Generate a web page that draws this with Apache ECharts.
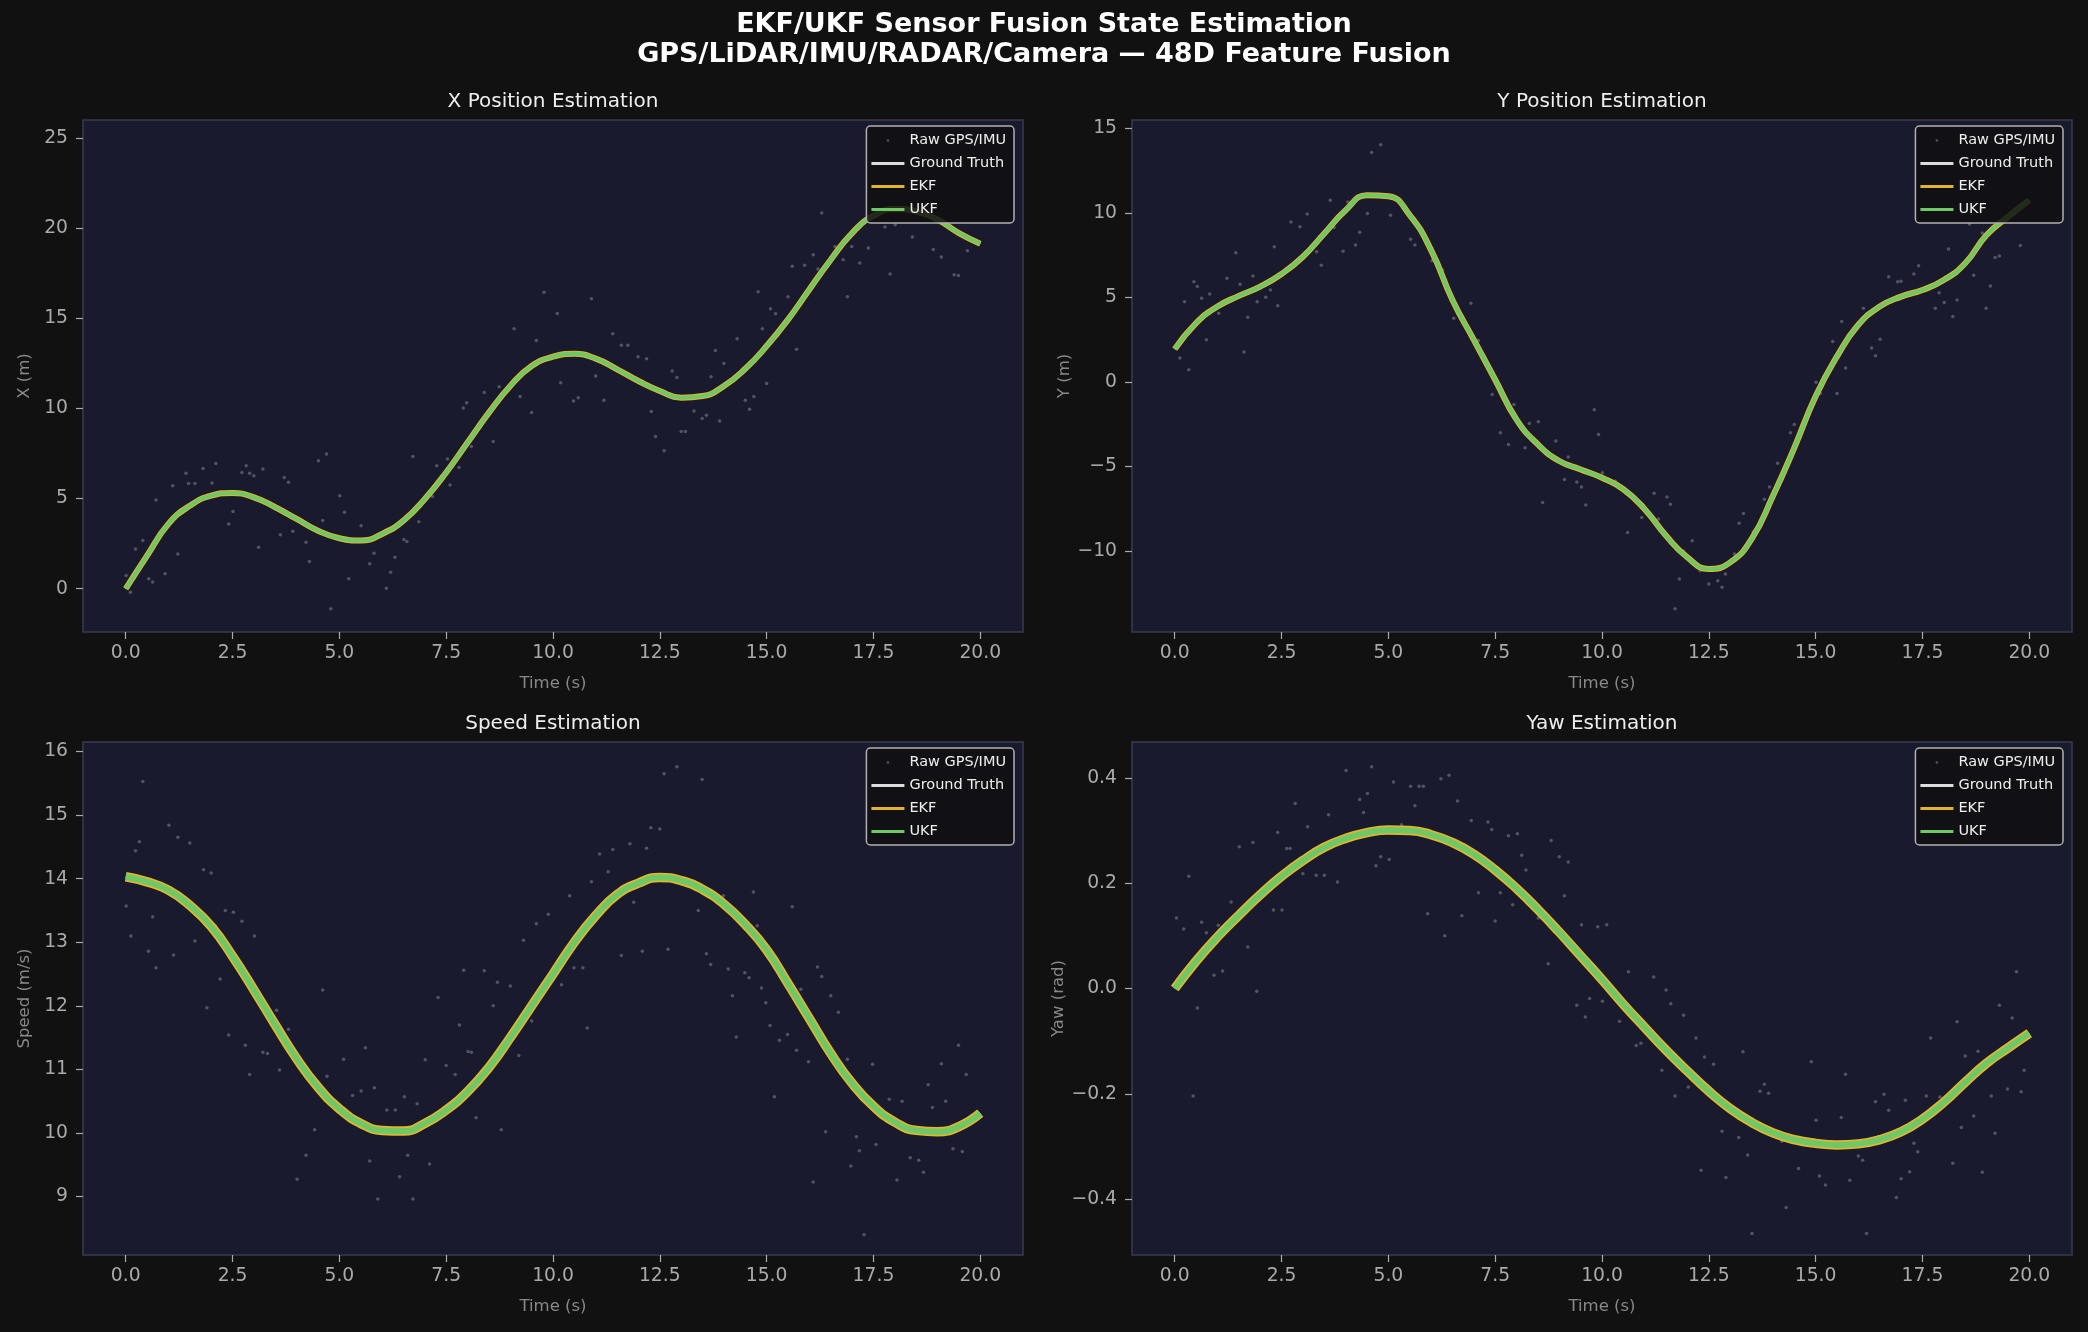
<!DOCTYPE html>
<html>
<head>
<meta charset="utf-8">
<title>EKF/UKF Sensor Fusion State Estimation</title>
<script src="https://cdn.jsdelivr.net/npm/echarts@6.0.0/dist/echarts.min.js"></script>
<style>
  html, body { margin: 0; padding: 0; background: #111111; }
  #chart { width: 2088px; height: 1332px; }
</style>
</head>
<body>
<div id="chart"></div>
<script>
  // time base of the estimated tracks (s)
  var trackT = [0, 0.5, 1, 1.5, 2, 2.5, 3, 3.5, 4, 4.5, 5, 5.5, 6, 6.5, 7, 7.5, 8, 8.5, 9, 9.5, 10,
    10.5, 11, 11.5, 12, 12.5, 13, 13.5, 14, 14.5, 15, 15.5, 16, 16.5, 17, 17.5, 18, 18.5, 19, 19.5, 20];

  // truth / EKF / UKF run on top of each other at this scale, so one track per state
  var xTrack = [0, 1.84, 3.6, 4.6, 5.16, 5.31, 5.07, 4.52, 3.87, 3.22, 2.8, 2.67, 3.04, 3.78, 4.98, 6.45,
    8.11, 9.77, 11.25, 12.35, 12.87, 13.03, 12.76, 12.17, 11.52, 10.97, 10.6, 10.69, 11.25, 12.2, 13.46,
    14.93, 16.6, 18.25, 19.73, 20.69, 21.06, 20.93, 20.47, 19.73, 19.14];
  var yTrack = [1.94, 3.48, 4.46, 5.09, 5.64, 6.39, 7.41, 8.78, 10.16, 11.05, 10.99, 9.87, 7.8, 4.85, 2.49,
    0.13, -2.23, -3.7, -4.68, -5.18, -5.67, -6.35, -7.53, -9.11, -10.39, -11.07, -10.68, -9.3, -6.75, -3.9,
    -0.85, 1.51, 3.38, 4.46, 5.05, 5.44, 6.03, 7.02, 8.69, 9.77, 10.75];
  var speedTrack = [14.03, 13.95, 13.82, 13.58, 13.25, 12.78, 12.25, 11.7, 11.17, 10.72, 10.38, 10.15, 10.04,
    10.03, 10.15, 10.36, 10.65, 11.03, 11.5, 12.0, 12.5, 13.0, 13.42, 13.75, 13.93, 14.02, 13.97, 13.83,
    13.6, 13.28, 12.88, 12.35, 11.8, 11.25, 10.78, 10.42, 10.17, 10.04, 10.02, 10.1, 10.31];
  var yawTrack = [0, 0.052, 0.098, 0.139, 0.178, 0.213, 0.243, 0.268, 0.285, 0.296, 0.301, 0.3, 0.292, 0.277,
    0.255, 0.225, 0.19, 0.15, 0.107, 0.062, 0.017, -0.03, -0.074, -0.117, -0.157, -0.195, -0.228, -0.254,
    -0.274, -0.287, -0.294, -0.297, -0.295, -0.287, -0.272, -0.248, -0.216, -0.178, -0.142, -0.113, -0.085];

  // raw GPS/IMU samples [t, value] that stand off the tracks
  var rawX = [[0.11,-0.19],[0.01,0.73],[0.23,2.21],[0.4,2.67],[0.54,0.55],[0.63,0.37],[0.92,0.83],[0.71,4.92],
    [1.1,5.71],[1.22,1.93],[1.41,6.41],[1.47,5.84],[1.62,5.84],[1.81,6.67],[2.02,5.86],[2.11,6.95],[2.41,3.59],
    [2.51,4.28],[2.72,6.45],[2.82,6.82],[2.9,6.4],[3.0,6.27],[3.21,6.64],[3.11,2.3],[3.62,3.0],[3.71,6.17],
    [3.81,5.9],[3.91,3.19],[4.22,2.58],[4.3,1.51],[4.51,7.1],[4.7,7.47],[4.61,3.78],[4.8,-1.11],[5.01,5.16],
    [5.12,4.24],[5.22,0.55],[5.51,3.5],[5.71,1.38],[5.81,1.97],[6.1,0.03],[6.2,0.92],[6.3,1.75],[6.51,2.73],
    [6.58,2.62],[6.72,7.34],[6.86,3.72],[7.18,5.11],[7.28,6.82],[7.59,5.75],[7.8,6.73],[7.53,7.19],[7.9,10.03],
    [7.98,10.32],[8.09,7.89],[8.39,10.88],[8.6,8.17],[8.74,11.21],[9.09,14.42],[9.23,10.66],[9.5,9.77],
    [9.61,13.77],[9.79,16.45],[10.1,15.27],[10.18,11.43],[10.48,10.42],[10.59,10.6],[10.9,16.08],[11.0,11.8],
    [11.19,10.45],[11.4,14.14],[11.6,13.51],[11.75,13.5],[11.99,12.87],[12.19,12.76],[12.3,9.83],[12.4,8.44],
    [12.6,7.65],[12.79,12.08],[12.9,11.71],[13.0,8.72],[13.1,8.72],[13.3,9.86],[13.49,9.44],[13.59,9.62],
    [13.7,11.76],[13.8,13.22],[13.9,9.31],[14.0,12.5],[14.31,13.87],[14.5,10.45],[14.6,9.96],[14.7,10.66],
    [14.8,16.47],[15.0,11.39],[14.9,14.42],[15.09,15.53],[15.21,15.25],[15.5,16.19],[15.7,13.28],[15.6,17.89],
    [15.89,17.94],[16.09,18.53],[16.2,17.74],[16.29,20.84],[16.6,18.99],[16.79,18.25],[16.89,16.19],
    [16.99,18.99],[17.18,18.07],[17.38,18.9],[17.77,20.06],[17.89,17.46],[18.01,20.19],[18.41,19.51],
    [18.9,18.81],[19.09,18.4],[19.39,17.42],[19.49,17.37],[19.7,18.75]];
  var rawY = [[0.12,1.41],[0.33,0.72],[0.23,4.75],[0.45,5.93],[0.53,5.64],[0.63,4.95],[0.74,2.49],[0.82,5.21],
    [1.03,4.07],[1.22,6.13],[1.43,7.64],[1.53,5.78],[1.62,1.77],[1.71,3.83],[1.83,6.27],[1.93,4.75],[2.13,5.01],
    [2.24,5.44],[2.33,8.0],[2.41,4.5],[2.72,9.47],[2.93,9.18],[3.1,9.93],[3.32,7.7],[3.43,6.9],[3.64,10.75],
    [3.73,9.14],[3.94,7.74],[4.05,10.65],[4.23,8.1],[4.33,8.86],[4.51,9.96],[4.61,13.58],[4.82,14.03],
    [5.05,9.87],[5.23,10.75],[5.52,8.45],[5.62,8.1],[6.02,7.17],[6.27,6.62],[6.32,5.84],[6.53,3.77],[6.72,3.87],
    [6.93,4.66],[7.11,2.45],[7.43,-0.75],[7.62,-3.01],[7.81,-3.7],[7.94,-1.34],[8.2,-3.9],[8.3,-2.46],
    [8.51,-2.36],[8.61,-7.14],[8.82,-4.49],[8.92,-3.5],[9.12,-5.77],[9.21,-4.45],[9.41,-5.92],[9.52,-6.22],
    [9.62,-7.28],[9.82,-1.64],[9.92,-3.11],[10.01,-5.37],[10.31,-5.86],[10.6,-8.91],[10.93,-8.03],[11.22,-6.59],
    [11.32,-8.12],[11.52,-6.81],[11.6,-7.24],[11.71,-13.43],[11.81,-11.66],[11.91,-10.01],[12.11,-9.4],
    [12.3,-11.17],[12.5,-11.96],[12.71,-11.76],[12.81,-12.15],[12.89,-11.37],[13.1,-10.19],[13.21,-8.36],
    [13.31,-7.79],[13.54,-8.87],[13.8,-6.94],[13.92,-6.22],[14.11,-4.82],[14.41,-3.01],[14.5,-2.52],[14.6,-3.31],
    [14.72,-2.38],[15.01,-0.02],[15.11,-0.69],[15.4,2.39],[15.5,-0.69],[15.61,3.57],[15.7,0.82],[15.91,3.24],
    [16.12,4.36],[16.31,2.0],[16.4,1.55],[16.51,2.53],[16.71,6.23],[16.92,5.93],[17.0,5.95],[17.21,5.15],
    [17.3,6.39],[17.41,6.88],[17.8,4.36],[17.89,5.28],[18.01,4.7],[18.11,7.86],[18.21,3.87],[18.31,4.85],
    [18.6,9.34],[18.7,6.31],[18.9,8.82],[18.99,4.36],[19.09,5.68],[19.2,7.37],[19.3,7.45],[19.79,8.08]];
  var rawSpeed = [[0.4,15.53],[0.32,14.58],[0.23,14.44],[0.01,13.57],[0.12,13.1],[0.53,12.86],[0.63,13.4],
    [0.71,12.6],[1.01,14.84],[1.12,12.8],[1.22,14.65],[1.5,14.56],[1.62,13.02],[1.82,14.14],[1.9,11.97],
    [2.0,14.09],[2.1,13.26],[2.21,12.42],[2.33,13.5],[2.41,11.54],[2.52,13.47],[2.72,13.33],[2.8,11.38],
    [2.9,10.92],[3.01,13.1],[3.21,11.27],[3.32,11.25],[3.53,11.93],[3.6,10.99],[3.81,11.63],[4.01,9.27],
    [4.22,9.65],[4.42,10.05],[4.61,12.25],[4.71,10.89],[5.1,11.16],[5.31,10.59],[5.51,10.66],[5.61,11.34],
    [5.71,9.56],[5.82,10.71],[5.9,8.96],[6.11,10.36],[6.31,10.36],[6.41,9.31],[6.52,10.57],[6.6,9.65],
    [6.72,8.96],[6.82,10.46],[7.01,11.15],[7.11,9.51],[7.31,12.13],[7.5,11.06],[7.71,10.92],[7.81,11.7],
    [7.91,12.56],[8.01,11.28],[8.09,11.27],[8.2,10.24],[8.39,12.55],[8.6,12.0],[8.7,12.37],[8.79,10.05],
    [9.0,12.31],[9.2,11.22],[9.31,13.03],[9.5,11.76],[9.61,13.29],[9.89,13.44],[10.2,12.33],[10.39,13.73],
    [10.49,12.6],[10.7,12.6],[10.8,11.65],[10.9,13.95],[11.09,14.39],[11.29,14.11],[11.4,14.46],[11.6,12.79],
    [11.8,14.55],[11.89,13.63],[12.09,12.86],[12.19,14.48],[12.29,14.8],[12.5,14.78],[12.6,15.65],[12.69,12.89],
    [12.9,15.76],[13.4,13.5],[13.49,15.56],[13.59,12.82],[13.69,12.65],[13.99,13.73],[14.1,12.58],[14.2,12.16],
    [14.29,11.51],[14.49,12.52],[14.59,12.44],[14.69,13.79],[14.78,13.26],[14.88,12.28],[14.98,12.05],
    [15.08,11.69],[15.18,10.57],[15.3,11.46],[15.49,11.55],[15.6,13.56],[15.7,11.3],[15.8,12.26],[15.98,11.12],
    [16.09,9.23],[16.19,12.61],[16.29,12.46],[16.38,10.02],[16.5,12.16],[16.68,11.9],[16.89,11.16],[16.97,9.48],
    [17.1,9.94],[17.17,9.72],[17.28,8.4],[17.48,11.08],[17.56,9.82],[17.87,10.53],[18.05,9.26],[18.17,10.5],
    [18.36,9.61],[18.56,9.57],[18.67,9.38],[18.78,10.76],[18.88,10.4],[19.09,11.09],[19.19,10.5],[19.36,9.75],
    [19.49,11.38],[19.58,9.71],[19.67,10.92]];
  var rawYaw = [[0.04,0.134],[0.21,0.113],[0.33,0.213],[0.43,-0.204],[0.53,-0.037],[0.63,0.126],[0.74,0.106],
    [0.92,0.025],[1.02,0.12],[1.12,0.033],[1.32,0.164],[1.51,0.269],[1.71,0.079],[1.83,0.277],[1.92,-0.005],
    [2.11,0.192],[2.31,0.149],[2.41,0.296],[2.51,0.149],[2.62,0.266],[2.7,0.266],[2.82,0.351],[3.0,0.218],
    [3.11,0.307],[3.31,0.215],[3.5,0.215],[3.6,0.33],[3.81,0.202],[4.01,0.414],[4.33,0.359],[4.42,0.334],
    [4.51,0.37],[4.61,0.421],[4.71,0.233],[4.82,0.25],[5.02,0.245],[5.12,0.392],[5.31,0.311],[5.52,0.384],
    [5.62,0.347],[5.72,0.384],[5.82,0.384],[5.92,0.142],[6.23,0.398],[6.32,0.1],[6.42,0.405],[6.62,0.356],
    [6.72,0.138],[6.94,0.319],[7.11,0.182],[7.33,0.316],[7.42,0.302],[7.5,0.128],[7.62,0.182],[7.81,0.29],
    [7.91,0.159],[8.02,0.294],[8.12,0.253],[8.22,0.225],[8.51,0.134],[8.74,0.047],[8.81,0.281],[9.0,0.25],
    [9.12,0.176],[9.21,0.24],[9.41,-0.032],[9.52,0.121],[9.61,-0.054],[9.71,-0.019],[9.9,0.117],[10.01,-0.024],
    [10.11,0.121],[10.31,-0.016],[10.41,-0.062],[10.62,0.032],[10.8,-0.108],[10.91,-0.104],[11.21,0.022],
    [11.4,-0.155],[11.5,-0.003],[11.61,-0.029],[11.71,-0.204],[11.91,-0.051],[12.02,-0.187],[12.2,-0.094],
    [12.32,-0.345],[12.4,-0.13],[12.61,-0.144],[12.81,-0.271],[12.9,-0.359],[13.2,-0.283],[13.3,-0.12],
    [13.41,-0.316],[13.51,-0.465],[13.7,-0.195],[13.8,-0.182],[13.9,-0.199],[14.21,-0.29],[14.31,-0.416],
    [14.6,-0.342],[14.9,-0.139],[15.01,-0.25],[15.09,-0.356],[15.23,-0.373],[15.6,-0.245],[15.7,-0.163],
    [15.8,-0.364],[16.0,-0.318],[16.1,-0.326],[16.19,-0.465],[16.4,-0.215],[16.6,-0.201],[16.71,-0.231],
    [16.89,-0.397],[17.0,-0.361],[17.1,-0.212],[17.2,-0.348],[17.3,-0.294],[17.39,-0.31],[17.59,-0.204],
    [17.69,-0.094],[17.91,-0.206],[18.21,-0.332],[18.31,-0.063],[18.41,-0.264],[18.5,-0.128],[18.7,-0.242],
    [18.8,-0.119],[18.9,-0.349],[19.11,-0.204],[19.2,-0.275],[19.3,-0.032],[19.49,-0.191],[19.6,-0.056],
    [19.7,0.032],[19.81,-0.196],[19.88,-0.155]];

  // tick labels
  var timeTicks = [0, 2.5, 5, 7.5, 10, 12.5, 15, 17.5, 20];
  var xTicks = [0, 5, 10, 15, 20, 25];
  var yTicks = [-10, -5, 0, 5, 10, 15];
  var speedTicks = [9, 10, 11, 12, 13, 14, 15, 16];
  var yawTicks = [-0.4, -0.2, 0, 0.2, 0.4];

  var FONT = "'DejaVu Sans', sans-serif";
  // legend handles: a small dot for the samples, a flat bar for the lines
  var DOT_ICON = "path://M0,0M33,14M15.3,5.8h2.4v2.4h-2.4z";
  var BAR_ICON = "path://M0,0M33,14M0,5.6h33v2.8h-33z";

  var panels = [
    { title: "X Position Estimation", yName: "X (m)", track: xTrack, raw: rawX,
      min: -2.4, max: 26, ticks: xTicks, digits: 0, ekfW: 6, ukfW: 4 },
    { title: "Y Position Estimation", yName: "Y (m)", track: yTrack, raw: rawY,
      min: -14.8, max: 15.5, ticks: yTicks, digits: 0, ekfW: 6, ukfW: 4 },
    { title: "Speed Estimation", yName: "Speed (m/s)", track: speedTrack, raw: rawSpeed,
      min: 8.08, max: 16.15, ticks: speedTicks, digits: 0, ekfW: 9.5, ukfW: 6 },
    { title: "Yaw Estimation", yName: "Yaw (rad)", track: yawTrack, raw: rawYaw,
      min: -0.506, max: 0.468, ticks: yawTicks, digits: 1, ekfW: 9.5, ukfW: 6 }
  ];

  var grids = [
    { left: 83, top: 120, width: 940, height: 512 },
    { left: 1132, top: 120, width: 940, height: 512 },
    { left: 83, top: 742, width: 940, height: 513 },
    { left: 1132, top: 742, width: 940, height: 513 }
  ];

  function fmt(d) {
    return function (v) {
      var s = Math.abs(v).toFixed(d);
      return (v < -1e-9 ? "\u2212" : "") + s;
    };
  }

  var chart = echarts.init(document.getElementById("chart"), null, { renderer: "canvas" });

  var option = {
    backgroundColor: "#111111",
    animation: false,
    textStyle: { fontFamily: FONT },
    title: [{
      text: "EKF/UKF Sensor Fusion State Estimation\nGPS/LiDAR/IMU/RADAR/Camera \u2014 48D Feature Fusion",
      left: "center", top: 10, padding: 0,
      textStyle: { color: "#ffffff", fontSize: 27, fontWeight: "bold", lineHeight: 30, fontFamily: FONT }
    }].concat(panels.map(function (p, i) {
      var g = grids[i];
      return {
        text: p.title, left: g.left + g.width / 2, top: g.top - 28, textAlign: "center", padding: 0,
        textStyle: { color: "#eeeeee", fontSize: 20, fontWeight: "normal", fontFamily: FONT }
      };
    })),
    grid: grids.map(function (g) {
      return {
        left: g.left, top: g.top, width: g.width, height: g.height, show: true,
        backgroundColor: "#1a1a2e", borderColor: "#3a3a50", borderWidth: 1.5
      };
    }),
    legend: grids.map(function (g) {
      return {
        orient: "vertical", right: 2088 - (g.left + g.width - 9), top: g.top + 6,
        itemWidth: 33, itemHeight: 14, itemGap: 8, padding: [7, 8, 6, 5],
        backgroundColor: "rgba(17,17,17,0.85)", borderColor: "#b0b0b0", borderWidth: 1.5, borderRadius: 4,
        textStyle: { color: "#eeeeee", fontSize: 14.5, fontFamily: FONT },
        selectedMode: false, z: 10,
        data: [
          { name: "Raw GPS/IMU", icon: DOT_ICON },
          { name: "Ground Truth", icon: BAR_ICON },
          { name: "EKF", icon: BAR_ICON },
          { name: "UKF", icon: BAR_ICON }
        ]
      };
    }),
    xAxis: grids.map(function (g, i) {
      return {
        type: "value", gridIndex: i, min: -1, max: 21,
        name: "Time (s)", nameLocation: "middle", nameGap: 43,
        nameTextStyle: { color: "#888888", fontSize: 16.5, fontFamily: FONT },
        axisLine: { show: false, onZero: false },
        axisTick: { show: true, length: 7, lineStyle: { color: "#aaaaaa", width: 1.2 }, customValues: timeTicks },
        axisLabel: { color: "#aaaaaa", fontSize: 18.75, margin: 12, customValues: timeTicks, formatter: fmt(1) },
        splitLine: { show: false }
      };
    }),
    yAxis: panels.map(function (p, i) {
      return {
        type: "value", gridIndex: i, min: p.min, max: p.max,
        name: p.yName, nameLocation: "middle", nameGap: 50, nameRotate: 90,
        nameTextStyle: { color: "#888888", fontSize: 16.5, fontFamily: FONT },
        axisLine: { show: false, onZero: false },
        axisTick: { show: true, length: 7, lineStyle: { color: "#aaaaaa", width: 1.2 }, customValues: p.ticks },
        axisLabel: { color: "#aaaaaa", fontSize: 18.75, margin: 15, customValues: p.ticks, formatter: fmt(p.digits) },
        splitLine: { show: false }
      };
    }),
    series: []
  };

  panels.forEach(function (p, i) {
    var line = trackT.map(function (t, k) { return [t, p.track[k]]; });
    option.series.push({
      name: "Raw GPS/IMU", type: "scatter", xAxisIndex: i, yAxisIndex: i,
      data: p.raw, symbolSize: 3.5,
      itemStyle: { color: "#9a9aaa", opacity: 0.45 }
    });
    option.series.push({
      name: "Ground Truth", type: "line", xAxisIndex: i, yAxisIndex: i,
      data: line, smooth: true, symbol: "none",
      lineStyle: { color: "#dddddd", width: 2 }, itemStyle: { color: "#dddddd" }
    });
    option.series.push({
      name: "EKF", type: "line", xAxisIndex: i, yAxisIndex: i,
      data: line, smooth: true, symbol: "none",
      lineStyle: { color: "#e3b52c", width: p.ekfW }, itemStyle: { color: "#e3b52c" }
    });
    option.series.push({
      name: "UKF", type: "line", xAxisIndex: i, yAxisIndex: i,
      data: line, smooth: true, symbol: "none",
      lineStyle: { color: "#6fc866", width: p.ukfW }, itemStyle: { color: "#6fc866" }
    });
  });

  chart.setOption(option);
</script>
</body>
</html>
